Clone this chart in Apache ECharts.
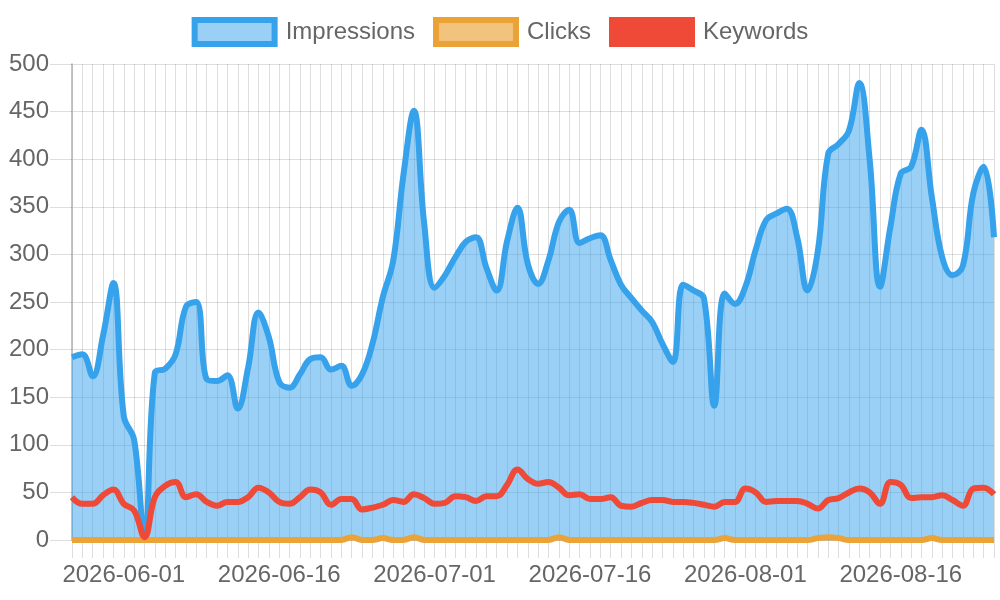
<!DOCTYPE html>
<html>
<head>
<meta charset="utf-8">
<script src="https://cdn.jsdelivr.net/npm/echarts@6/dist/echarts.min.js"></script>
<style>
  html, body { margin: 0; padding: 0; background: #ffffff; }
  #chart { width: 1000px; height: 600px; }
</style>
</head>
<body>
<div id="chart"></div>
<script>
const dates = [
  '2026-05-27','2026-05-28','2026-05-29','2026-05-30','2026-05-31',
  '2026-06-01','2026-06-02','2026-06-03','2026-06-04','2026-06-05','2026-06-06','2026-06-07','2026-06-08','2026-06-09','2026-06-10',
  '2026-06-11','2026-06-12','2026-06-13','2026-06-14','2026-06-15','2026-06-16','2026-06-17','2026-06-18','2026-06-19','2026-06-20',
  '2026-06-21','2026-06-22','2026-06-23','2026-06-24','2026-06-25','2026-06-26','2026-06-27','2026-06-28','2026-06-29','2026-06-30',
  '2026-07-01','2026-07-02','2026-07-03','2026-07-04','2026-07-05','2026-07-06','2026-07-07','2026-07-08','2026-07-09','2026-07-10',
  '2026-07-11','2026-07-12','2026-07-13','2026-07-14','2026-07-15','2026-07-16','2026-07-17','2026-07-18','2026-07-19','2026-07-20',
  '2026-07-21','2026-07-22','2026-07-23','2026-07-25','2026-07-26','2026-07-27','2026-07-28','2026-07-29','2026-07-30','2026-07-31',
  '2026-08-01','2026-08-02','2026-08-03','2026-08-04','2026-08-05','2026-08-06','2026-08-07','2026-08-08','2026-08-09','2026-08-10',
  '2026-08-11','2026-08-12','2026-08-13','2026-08-14','2026-08-15','2026-08-16','2026-08-17','2026-08-18','2026-08-19','2026-08-20',
  '2026-08-21','2026-08-22','2026-08-23','2026-08-24','2026-08-25'
];

const impressions = [
  192, 195, 172, 215, 270, 130, 105, 0, 176, 180,
  195, 245, 250, 169, 167, 173, 138, 181, 239, 213,
  166, 160, 174, 190, 192, 179, 183, 162, 174, 206,
  255, 293, 384, 451, 332, 265, 278, 297, 313, 318,
  286, 262, 314, 349, 290, 269, 294, 334, 347, 312,
  317, 320, 294, 268, 254, 241, 229, 206, 187, 268,
  262, 254, 141, 259, 248, 266, 305, 336, 343, 348,
  318, 262, 304, 406, 416, 430, 480, 399, 266, 329,
  385, 392, 431, 360, 297, 278, 288, 364, 392, 318
];

const clicks = [
  0, 0, 0, 0, 0, 0, 0, 0, 0, 0,
  0, 0, 0, 0, 0, 0, 0, 0, 0, 0,
  0, 0, 0, 0, 0, 0, 0, 3, 0, 0,
  2, 0, 0, 3, 0, 0, 0, 0, 0, 0,
  0, 0, 0, 0, 0, 0, 0, 3, 0, 0,
  0, 0, 0, 0, 0, 0, 0, 0, 0, 0,
  0, 0, 0, 2, 0, 0, 0, 0, 0, 0,
  0, 0, 2, 3, 2, 0, 0, 0, 0, 0,
  0, 0, 0, 2, 0, 0, 0, 0, 0, 0
];

const keywords = [
  45, 38, 38, 47, 53, 38, 31, 3, 45, 57,
  61, 45, 48, 40, 36, 40, 40, 45, 55, 50,
  40, 38, 45, 53, 50, 37, 43, 43, 32, 34,
  37, 42, 40, 48, 44, 38, 39, 46, 45, 41,
  46, 46, 58, 74, 64, 59, 61, 55, 47, 48,
  43, 43, 45, 36, 35, 39, 42, 42, 40, 40,
  39, 37, 35, 40, 40, 54, 50, 40, 41, 41,
  41, 38, 33, 42, 44, 50, 54, 50, 38, 61,
  58, 44, 45, 45, 47, 42, 36, 54, 55, 48
];

const yTicks = { min: 0, max: 500, interval: 50 };

const FONT = '"Liberation Sans", Arial, Helvetica, sans-serif';
const GRID_COLOR = 'rgba(0,0,0,0.13)';
const BLUE = '#36a2eb';
const ORANGE = '#eba337';
const RED = '#ee4a37';

const chart = echarts.init(document.getElementById('chart'), null, { renderer: 'canvas' });

chart.setOption({
  animation: false,
  textStyle: { fontFamily: FONT },
  legend: {
    top: 12,
    left: 'center',
    itemWidth: 80,
    itemHeight: 24,
    itemGap: 18,
    textStyle: { fontSize: 24, color: '#666666', fontFamily: FONT, padding: [0, 0, 0, 6] },
    data: [
      { name: 'Impressions', icon: 'rect', itemStyle: { color: 'rgba(54,162,235,0.5)', borderColor: BLUE, borderWidth: 6, opacity: 1 } },
      { name: 'Clicks', icon: 'rect', itemStyle: { color: 'rgba(235,163,55,0.65)', borderColor: ORANGE, borderWidth: 6, opacity: 1 } },
      { name: 'Keywords', icon: 'rect', itemStyle: { color: RED, borderColor: RED, borderWidth: 6, opacity: 1 } }
    ]
  },
  grid: { left: 72, right: 6, top: 64, bottom: 60, containLabel: false },
  xAxis: {
    type: 'category',
    boundaryGap: false,
    data: dates,
    axisLine: { show: true, lineStyle: { color: GRID_COLOR, width: 1 } },
    axisTick: { show: true, interval: 0, length: 18, lineStyle: { color: GRID_COLOR, width: 1 } },
    axisLabel: {
      interval: function (i) { return i % 15 === 5; },
      fontSize: 24,
      color: '#666666',
      fontFamily: FONT,
      margin: 23
    },
    splitLine: { show: true, interval: 0, lineStyle: { color: GRID_COLOR, width: 1 } }
  },
  yAxis: {
    type: 'value',
    min: yTicks.min,
    max: yTicks.max,
    interval: yTicks.interval,
    axisLine: { show: true, lineStyle: { color: '#b0b0b0', width: 1.5 } },
    axisTick: { show: true, length: 22, lineStyle: { color: GRID_COLOR, width: 1 } },
    axisLabel: { fontSize: 24, color: '#666666', fontFamily: FONT, margin: 23 },
    splitLine: { show: true, lineStyle: { color: GRID_COLOR, width: 1 } }
  },
  series: [
    {
      name: 'Impressions',
      type: 'line',
      data: impressions,
      smooth: 0.4,
      showSymbol: false,
      symbol: 'none',
      itemStyle: { color: BLUE },
      lineStyle: { color: BLUE, width: 6 },
      areaStyle: { color: 'rgba(54,162,235,0.5)', opacity: 1, origin: 'start' },
      z: 3
    },
    {
      name: 'Clicks',
      type: 'line',
      data: clicks,
      smooth: 0.4,
      showSymbol: false,
      symbol: 'none',
      itemStyle: { color: ORANGE },
      lineStyle: { color: ORANGE, width: 6 },
      z: 4
    },
    {
      name: 'Keywords',
      type: 'line',
      data: keywords,
      smooth: 0.4,
      showSymbol: false,
      symbol: 'none',
      itemStyle: { color: RED },
      lineStyle: { color: RED, width: 6 },
      z: 5
    }
  ]
});
</script>
</body>
</html>
